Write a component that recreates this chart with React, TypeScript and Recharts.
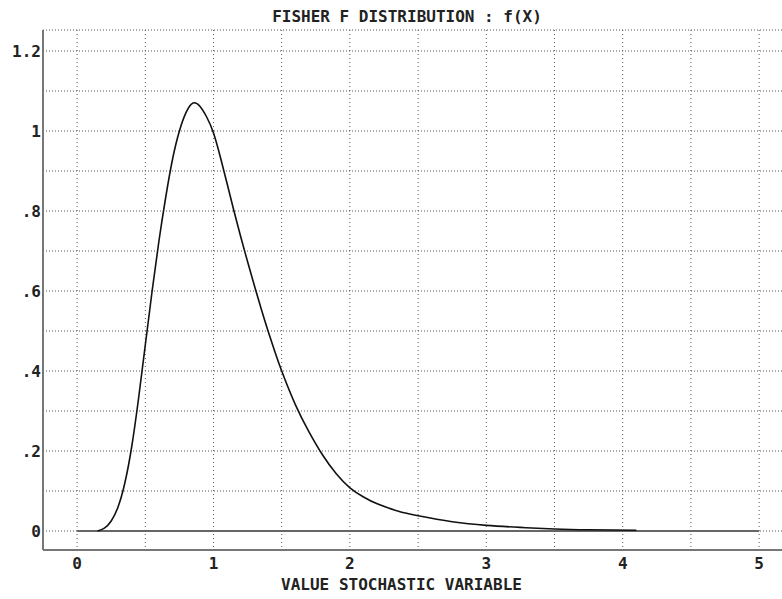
import React from 'react';
import { LineChart, Line, XAxis, YAxis, CartesianGrid } from 'recharts';

const curveX = [0.15, 0.2, 0.25, 0.3, 0.35, 0.4, 0.45, 0.5, 0.55, 0.6, 0.65, 0.7, 0.75, 0.8, 0.85, 0.9, 0.95, 1.0, 1.05, 1.1, 1.15, 1.2, 1.25, 1.3, 1.35, 1.4, 1.45, 1.5, 1.6, 1.7, 1.8, 1.9, 2.0, 2.1, 2.2, 2.35, 2.5, 2.75, 3.0, 3.25, 3.5, 3.75, 4.1];
const curveY = [0, 0.007, 0.025, 0.06, 0.12, 0.21, 0.33, 0.465, 0.6, 0.725, 0.835, 0.93, 1.0, 1.047, 1.07, 1.062, 1.035, 0.995, 0.935, 0.868, 0.8, 0.735, 0.673, 0.613, 0.555, 0.5, 0.448, 0.4, 0.316, 0.248, 0.19, 0.143, 0.108, 0.085, 0.068, 0.05, 0.038, 0.023, 0.014, 0.009, 0.005, 0.003, 0.002];

const baseX = [0, 5];
const baseY = [0, 0];

const xTicks = [0, 0.5, 1, 1.5, 2, 2.5, 3, 3.5, 4, 4.5, 5];
const xTickLabels = ['0', '', '1', '', '2', '', '3', '', '4', '', '5'];
const yTicks = [0, 0.1, 0.2, 0.3, 0.4, 0.5, 0.6, 0.7, 0.8, 0.9, 1.0, 1.1, 1.2];
const yTickLabels = ['0', '', '.2', '', '.4', '', '.6', '', '.8', '', '1', '', '1.2'];

const title = 'FISHER F DISTRIBUTION : f(X)';
const xLabel = 'VALUE STOCHASTIC VARIABLE';

const curveData = curveX.map((x, i) => ({ x, y: curveY[i] }));
const baseData = baseX.map((x, i) => ({ x, y: baseY[i] }));

const FONT = '"DejaVu Sans Mono", monospace';
const tickStyle = { fontFamily: FONT, fontSize: 16, fontWeight: 700, fill: '#222' };

export default function App() {
  return (
    <div style={{ position: 'absolute', left: 0, top: 0, width: 782, height: 599, overflow: 'hidden', background: '#fff' }}>
      <LineChart width={800} height={599} margin={{ top: 30, right: 10, bottom: 0, left: 0 }}>
        <CartesianGrid vertical={false} stroke="#555" strokeDasharray="1 2" />
        <CartesianGrid horizontal={false} stroke="#555" strokeDasharray="1 3" />
        <XAxis
          type="number"
          dataKey="x"
          domain={[-0.25, 5.2265]}
          ticks={xTicks}
          allowDataOverflow
          interval={0}
          tickFormatter={(v: number) => xTickLabels[xTicks.indexOf(v)] ?? ''}
          tickLine={false}
          tickSize={0}
          tickMargin={8}
          height={49}
          axisLine={{ stroke: '#777', strokeWidth: 2 }}
          tick={tickStyle}
        />
        <XAxis
          xAxisId="top"
          orientation="top"
          type="number"
          dataKey="x"
          domain={[-0.25, 5.2265]}
          allowDataOverflow
          tick={false}
          tickLine={false}
          tickSize={0}
          height={0}
          axisLine={{ stroke: '#777', strokeWidth: 2 }}
        />
        <YAxis
          type="number"
          domain={[-0.0475, 1.2525]}
          ticks={yTicks}
          allowDataOverflow
          interval={0}
          tickFormatter={(v: number) => yTickLabels[yTicks.indexOf(v)] ?? ''}
          tickLine={false}
          tickSize={0}
          tickMargin={2}
          width={43}
          axisLine={{ stroke: '#777', strokeWidth: 2 }}
          tick={tickStyle}
        />
        <Line data={baseData} dataKey="y" type="linear" stroke="#666" strokeWidth={2} dot={false} activeDot={false} isAnimationActive={false} />
        <Line data={curveData} dataKey="y" type="natural" stroke="#111" strokeWidth={1.6} dot={false} activeDot={false} isAnimationActive={false} />
      </LineChart>
      <div style={{ position: 'absolute', left: 0, width: 814, top: 9, fontFamily: FONT, fontSize: 16, fontWeight: 700, lineHeight: '16px', textAlign: 'center', color: '#222', whiteSpace: 'pre' }}>
        {title}
      </div>
      <div style={{ position: 'absolute', left: 0, width: 803, top: 577, fontFamily: FONT, fontSize: 16, fontWeight: 700, lineHeight: '16px', textAlign: 'center', color: '#222', whiteSpace: 'pre' }}>
        {xLabel}
      </div>
    </div>
  );
}
